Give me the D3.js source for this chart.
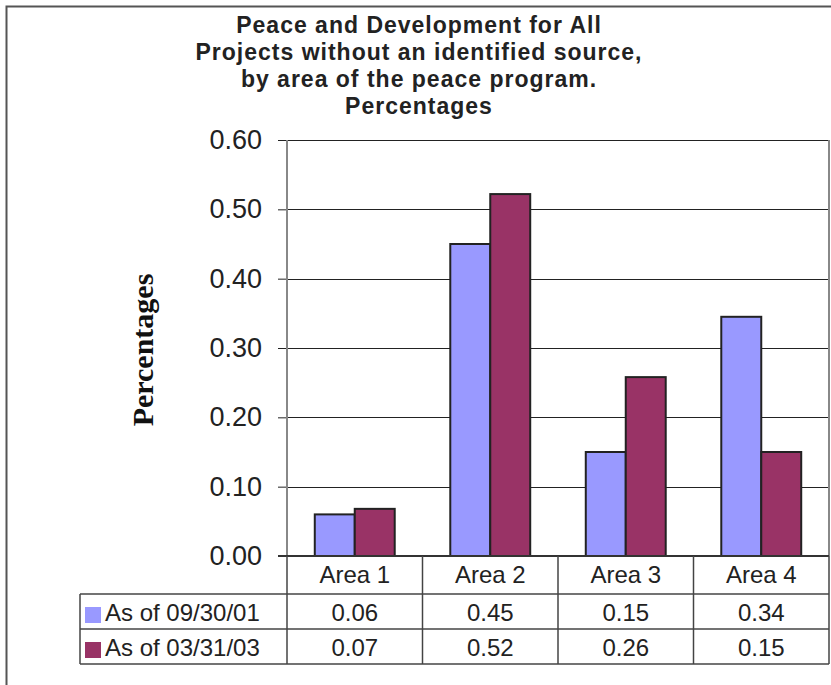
<!DOCTYPE html>
<html>
<head>
<meta charset="utf-8">
<script src="https://cdn.jsdelivr.net/npm/d3@7"></script>
<style>
html,body{margin:0;padding:0;background:#fff;}
svg{display:block;}
</style>
</head>
<body>
<svg id="chart" width="831" height="685"></svg>
<script>
const titleLines = ["Peace and Development for All", "Projects without an identified source,", "by area of the peace program.", "Percentages"];
const yAxisTitle = "Percentages";
const categories = ["Area 1", "Area 2", "Area 3", "Area 4"];
const seriesNames = ["As of 09/30/01", "As of 03/31/03"];
const series1 = [0.06, 0.45, 0.15, 0.345];
const series2 = [0.068, 0.522, 0.258, 0.15];
const yTicks = [0, 0.1, 0.2, 0.3, 0.4, 0.5, 0.6];
const colors = ["#9999FF", "#993366"];

const seriesValues = [series1, series2];
const svg = d3.select("#chart");

const plotL = 287, plotR = 829, plotT = 140, plotB = 556;
const rowH = [38, 35, 35];
const tableLeft = 80;
const font = "Liberation Sans, Arial, sans-serif";

// outer frame
svg.append("path").attr("d", "M6.5,685 L6.5,6.5 L831,6.5")
  .attr("fill", "none").attr("stroke", "#555").attr("stroke-width", 2);

// title
const title = svg.append("text").attr("font-family", font)
  .attr("font-weight", "bold").attr("font-size", 23).attr("letter-spacing", 1).attr("fill", "#222")
  .attr("text-anchor", "middle");
titleLines.forEach((t, i) => {
  title.append("tspan").attr("x", 419).attr("y", 33 + i * 27).text(t);
});

const y = d3.scaleLinear().domain([0, 0.6]).range([plotB, plotT]);
const x0 = d3.scaleBand().domain(categories).range([plotL, plotR]).paddingInner(0.41).paddingOuter(0.205);
const x1 = d3.scaleBand().domain(seriesNames).range([0, x0.bandwidth()]);

// gridlines
svg.append("g").selectAll("line").data(yTicks.filter(d => d > 0)).join("line")
  .attr("x1", plotL).attr("x2", plotR)
  .attr("y1", d => Math.round(y(d)) + 0.5).attr("y2", d => Math.round(y(d)) + 0.5)
  .attr("stroke", "#222").attr("stroke-width", 1.2);

// y axis
const yAxis = d3.axisLeft(y).tickValues(yTicks).tickFormat(d3.format(".2f")).tickSize(9).tickPadding(16);
const gy = svg.append("g").attr("transform", `translate(${plotL},0)`).call(yAxis);
gy.select(".domain").remove();
gy.selectAll(".tick line").attr("stroke", "#222");
gy.selectAll(".tick text").attr("font-family", font)
  .attr("font-size", 27).attr("fill", "#222");
svg.append("line").attr("x1", plotL).attr("x2", plotL).attr("y1", plotT).attr("y2", plotB)
  .attr("stroke", "#888").attr("stroke-width", 2);
svg.append("line").attr("x1", plotR).attr("x2", plotR).attr("y1", plotT).attr("y2", plotB)
  .attr("stroke", "#888").attr("stroke-width", 2);

// y title
svg.append("text").attr("transform", `translate(153,350) rotate(-90)`)
  .attr("text-anchor", "middle").attr("font-family", "Liberation Serif, Times New Roman, serif")
  .attr("font-weight", "bold").attr("font-size", 30).attr("fill", "#111").text(yAxisTitle);

// bars
const groups = svg.append("g").selectAll("g").data(categories).join("g")
  .attr("transform", d => `translate(${x0(d)},0)`);
groups.selectAll("rect").data((c, ci) => seriesNames.map((s, si) => ({ s, si, v: seriesValues[si][ci] })))
  .join("rect")
  .attr("x", d => x1(d.s)).attr("width", x1.bandwidth())
  .attr("y", d => y(d.v)).attr("height", d => y(0) - y(d.v))
  .attr("fill", d => colors[d.si]).attr("stroke", "#222").attr("stroke-width", 2);

// baseline
svg.append("line").attr("x1", plotL - 9).attr("x2", plotR).attr("y1", plotB).attr("y2", plotB)
  .attr("stroke", "#333").attr("stroke-width", 2);

// data table
const tbl = svg.append("g");
const r0 = plotB, r1 = plotB + rowH[0], r2 = r1 + rowH[1], r3 = r2 + rowH[2];
const lineC = "#444";
[r1, r2, r3].forEach(yy => {
  tbl.append("line").attr("x1", tableLeft).attr("x2", plotR).attr("y1", yy).attr("y2", yy)
    .attr("stroke", lineC).attr("stroke-width", 1.5);
});
tbl.append("line").attr("x1", tableLeft).attr("x2", tableLeft).attr("y1", r1).attr("y2", r3)
  .attr("stroke", lineC).attr("stroke-width", 1.5);
const colEdges = [plotL].concat(categories.map(c => x0(c) + x0.bandwidth() / 2 + x0.step() / 2));
colEdges.forEach(xx => {
  tbl.append("line").attr("x1", xx).attr("x2", xx).attr("y1", r0).attr("y2", r3)
    .attr("stroke", lineC).attr("stroke-width", 1.5);
});
tbl.selectAll("text.cat").data(categories).join("text").attr("class", "cat")
  .attr("x", d => x0(d) + x0.bandwidth() / 2).attr("y", r0 + 27)
  .attr("text-anchor", "middle").attr("font-family", font).attr("font-size", 24).attr("fill", "#222")
  .text(d => d);
const fmt = d3.format(".2f");
seriesNames.forEach((s, si) => {
  const rowTop = si === 0 ? r1 : r2;
  tbl.append("rect").attr("x", 85).attr("y", rowTop + 13).attr("width", 16).attr("height", 16)
    .attr("fill", colors[si]);
  tbl.append("text").attr("x", 105).attr("y", rowTop + 27).attr("font-family", font)
    .attr("font-size", 24).attr("fill", "#222").text(s);
  tbl.selectAll(null).data(categories).join("text")
    .attr("x", d => x0(d) + x0.bandwidth() / 2).attr("y", rowTop + 27)
    .attr("text-anchor", "middle").attr("font-family", font).attr("font-size", 24).attr("fill", "#222")
    .text((d, ci) => fmt(seriesValues[si][ci]));
});
</script>
</body>
</html>
